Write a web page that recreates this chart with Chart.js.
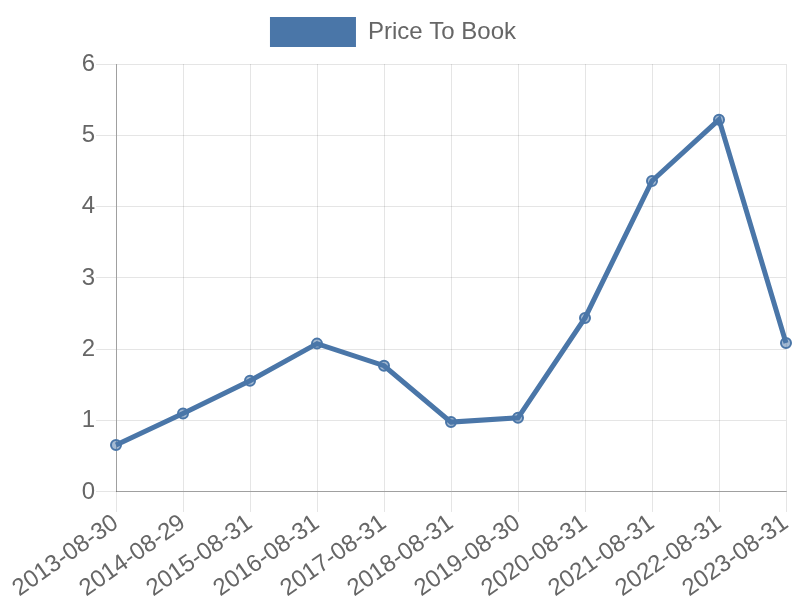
<!DOCTYPE html>
<html>
<head>
<meta charset="utf-8">
<script src="https://cdn.jsdelivr.net/npm/chart.js@4/dist/chart.umd.min.js"></script>
<style>
  html, body { margin: 0; padding: 0; background: #fff; }
  #wrap { width: 800px; height: 600px; }
</style>
</head>
<body>
<div id="wrap"><canvas id="ptbChart"></canvas></div>
<script>
/* ================= DATA ================= */
const dates = ["2013-08-30", "2014-08-29", "2015-08-31", "2016-08-31", "2017-08-31",
  "2018-08-31", "2019-08-30", "2020-08-31", "2021-08-31", "2022-08-31", "2023-08-31"];
const priceToBook = [0.66, 1.10, 1.56, 2.08, 1.77, 0.98, 1.04, 2.44, 4.36, 5.22, 2.09];
const yTicks = [0, 1, 2, 3, 4, 5, 6];

/* ================= CHART ================= */
Chart.defaults.font.family = "'Liberation Sans', Arial, sans-serif";
Chart.defaults.color = "#666";

// a bit more room under the legend
const legendGap = {
  id: "legendGap",
  beforeInit(chart) {
    const origFit = chart.legend.fit;
    chart.legend.fit = function () {
      origFit.bind(chart.legend)();
      this.height += 7;
    };
  }
};

const ctx = document.getElementById("ptbChart").getContext("2d");
new Chart(ctx, {
  type: "line",
  data: {
    labels: dates,
    datasets: [{
      label: "Price To Book",
      data: priceToBook,
      borderColor: "#4a76a8",
      backgroundColor: "#4a76a8",
      borderWidth: 5,
      pointRadius: 5,
      pointBorderWidth: 2,
      pointBackgroundColor: "rgba(74, 118, 168, 0.5)",
      pointBorderColor: "#4a76a8",
      tension: 0,
      fill: false
    }]
  },
  options: {
    responsive: true,
    maintainAspectRatio: false,
    animation: false,
    layout: { padding: { right: 14, bottom: 0 } },
    scales: {
      y: {
        min: 0,
        max: 6,
        afterBuildTicks: axis => { axis.ticks = yTicks.map(v => ({ value: v })); },
        afterFit: axis => { axis.width = 116; },
        ticks: { font: { size: 24 }, color: "#666", padding: 1 },
        grid: { color: "rgba(0,0,0,0.1)", tickLength: 20 },
        border: { color: "rgba(0,0,0,0.3)" }
      },
      x: {
        ticks: { font: { size: 24 }, color: "#666", maxRotation: 35, minRotation: 35, padding: -3 },
        grid: { color: "rgba(0,0,0,0.1)", tickLength: 20 },
        border: { color: "rgba(0,0,0,0.3)" }
      }
    },
    plugins: {
      legend: {
        labels: {
          font: { size: 24 },
          color: "#666",
          boxWidth: 86,
          boxHeight: 30,
          padding: 17,
          generateLabels: chart =>
            Chart.defaults.plugins.legend.labels.generateLabels(chart).map(item => ({ ...item, lineWidth: 0 }))
        }
      },
      tooltip: { enabled: false }
    }
  },
  plugins: [legendGap]
});
</script>
</body>
</html>
